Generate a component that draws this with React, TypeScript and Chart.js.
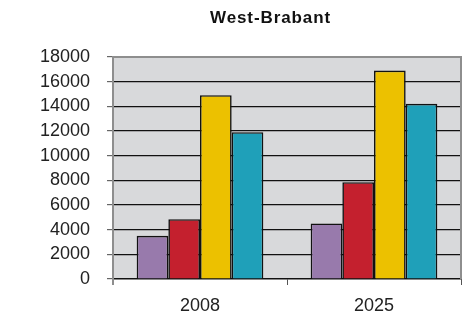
import React, { useEffect, useRef } from "react";
import { Chart, registerables } from "chart.js";

Chart.register(...registerables);

const categories = ["2008", "2025"];
const seriesPurple = [3500, 4500];
const seriesRed = [4850, 7850];
const seriesYellow = [14900, 16900];
const seriesTeal = [11900, 14200];
const colors = ["#987aac", "#c4202e", "#ecc100", "#1fa0b9"];
const titleText = "West-Brabant";
const yMax = 18000;
const yStep = 2000;

const FONT = "'Liberation Sans', Arial, Helvetica, sans-serif";

const framePlugin = {
  id: "frame",
  beforeDraw(chart: any) {
    const { ctx, chartArea } = chart;
    ctx.save();
    ctx.fillStyle = "#d8d9db";
    ctx.fillRect(chartArea.left, chartArea.top, chartArea.right - chartArea.left, chartArea.bottom - chartArea.top);
    ctx.restore();
  },
  afterDraw(chart: any) {
    const { ctx, chartArea } = chart;
    ctx.save();
    ctx.strokeStyle = "#8e8e8e";
    ctx.lineWidth = 2;
    ctx.beginPath();
    ctx.moveTo(chartArea.left, chartArea.top);
    ctx.lineTo(chartArea.right, chartArea.top);
    ctx.lineTo(chartArea.right, chartArea.bottom);
    ctx.stroke();
    ctx.beginPath();
    ctx.moveTo(chartArea.left, chartArea.top - 1);
    ctx.lineTo(chartArea.left, chartArea.bottom + 6);
    ctx.stroke();
    // title
    ctx.fillStyle = "#111";
    ctx.font = `bold 17px ${FONT}`;
    (ctx as any).letterSpacing = "0.9px";
    ctx.textAlign = "center";
    ctx.textBaseline = "middle";
    ctx.fillText(titleText, chart.width * 0.578, 18);
    ctx.restore();
  },
};

export default function App() {
  const ref = useRef<HTMLCanvasElement | null>(null);
  useEffect(() => {
    document.body.style.margin = "0";
    const names = ["A", "B", "C", "D"];
    const data = [seriesPurple, seriesRed, seriesYellow, seriesTeal];
    const chart = new Chart(ref.current!, {
      type: "bar",
      data: {
        labels: categories,
        datasets: data.map((d, i) => ({
          label: names[i],
          data: d,
          backgroundColor: colors[i],
          borderColor: "#111",
          borderWidth: 1.6,
          categoryPercentage: 0.728,
          barPercentage: 1,
        })),
      },
      options: {
        animation: false,
        responsive: false,
        layout: { padding: { top: 57, right: 7, left: 0, bottom: 0 } },
        plugins: { legend: { display: false }, tooltip: { enabled: false }, title: { display: false } },
        scales: {
          x: {
            grid: { drawOnChartArea: false, drawTicks: true, tickLength: 6, color: "#555", offset: true },
            border: { color: "#111", width: 1.5 },
            ticks: { color: "#222", font: { family: FONT, size: 18 }, padding: 10 },
            afterFit(scale: any) {
              scale.height = 36;
            },
          },
          y: {
            min: 0,
            max: yMax,
            ticks: {
              stepSize: yStep,
              color: "#222",
              font: { family: FONT, size: 18 },
              padding: 17,
              callback: (v: any) => String(v),
            },
            grid: {
              color: (c: any) => (c.tick && (c.tick.value === yMax || c.tick.value === 0) ? "rgba(0,0,0,0)" : "#111"),
              tickColor: "#666",
              tickLength: 6,
              lineWidth: 1.2,
            },
            border: { color: "#8e8e8e", width: 2 },
            afterFit(scale: any) {
              scale.width = 113;
            },
          },
        },
      },
      plugins: [framePlugin],
    });
    return () => chart.destroy();
  }, []);
  return <canvas ref={ref} width={468} height={315} style={{ display: "block" }} />;
}
